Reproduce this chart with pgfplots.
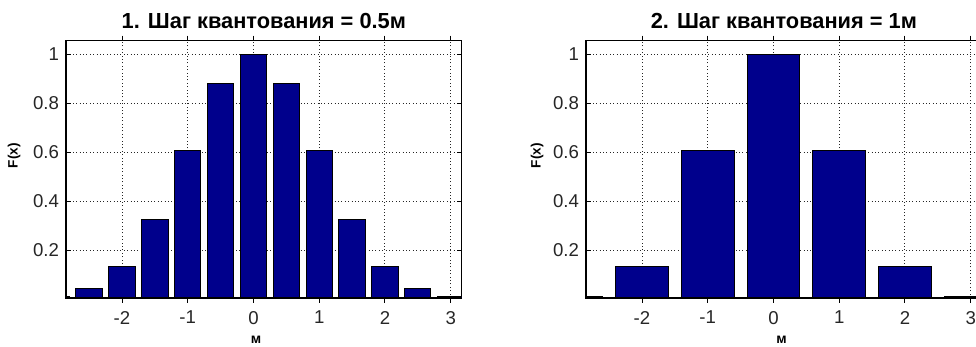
\documentclass[border=0pt]{standalone}
\usepackage{pgfplots}
\pgfplotsset{compat=1.18}
\usepackage{fontspec}
\setmainfont{Liberation Sans}
\definecolor{barblue}{RGB}{0,0,140}

\pgfplotsset{mstyle/.style={
  scale only axis, width=197.85pt, height=128.65pt,
  xmin=-2.852, xmax=3.167, ymin=0.006, ymax=1.055,
  xtick={-2,-1,0,1,2,3}, xticklabels={-2,-1,0,1,2,3},
  ytick={0.2,0.4,0.6,0.8,1}, yticklabels={0.2,0.4,0.6,0.8,1},
  tick align=inside, major tick length=2.5pt,
  tick style={black, line width=0.5pt},
  xmajorgrids, ymajorgrids,
  grid style={black!85, line width=0.5pt, dash pattern=on 0.5pt off 1.2pt},
  axis line style={black, line width=0.75pt},
  ticklabel style={font=\fontsize{9.3}{10}\selectfont, text=black!85},
  xticklabel style={yshift=-0.5pt},
  title style={at={(axis description cs:0.5,1)}, anchor=base, yshift=0pt,
               font=\bfseries\fontsize{10.9}{12}\selectfont},
  ylabel style={at={(axis description cs:0,0.553)}, anchor=center, yshift=26pt,
                font=\bfseries\fontsize{6.8}{8}\selectfont},
  xlabel style={at={(axis description cs:0.48,0)}, anchor=center, yshift=-21pt,
                font=\bfseries\fontsize{7}{8}\selectfont},
  ybar, 
}}

\begin{document}
\begin{tikzpicture}
\begin{axis}[mstyle, at={(33pt,24.5pt)}, anchor=south west, bar width=0.4,
  title={1. Шаг квантования = 0.5м}, ylabel={F(x)}, xlabel={м}]
\addplot[fill=barblue, draw=black, line width=0.5pt] coordinates {
  (-3,0.0111) (-2.5,0.0439) (-2,0.1353) (-1.5,0.3247) (-1,0.6065) (-0.5,0.8825)
  (0,1) (0.5,0.8825) (1,0.6065) (1.5,0.3247) (2,0.1353) (2.5,0.0439) (3,0.0111)};
\end{axis}
\begin{axis}[mstyle, at={(293pt,24.5pt)}, anchor=south west, bar width=0.8,
  title={2. Шаг квантования = 1м}, ylabel={F(x)}, xlabel={м},
  ylabel style={yshift=-1.5pt}, xlabel style={at={(axis description cs:0.494,0)}}]
\addplot[fill=barblue, draw=black, line width=0.5pt] coordinates {
  (-3,0.0111) (-2,0.1353) (-1,0.6065) (0,1) (1,0.6065) (2,0.1353) (3,0.0111)};
\end{axis}
\pgfresetboundingbox
\path[use as bounding box] (0,0) rectangle (488pt,173.5pt);
\end{tikzpicture}
\end{document}
